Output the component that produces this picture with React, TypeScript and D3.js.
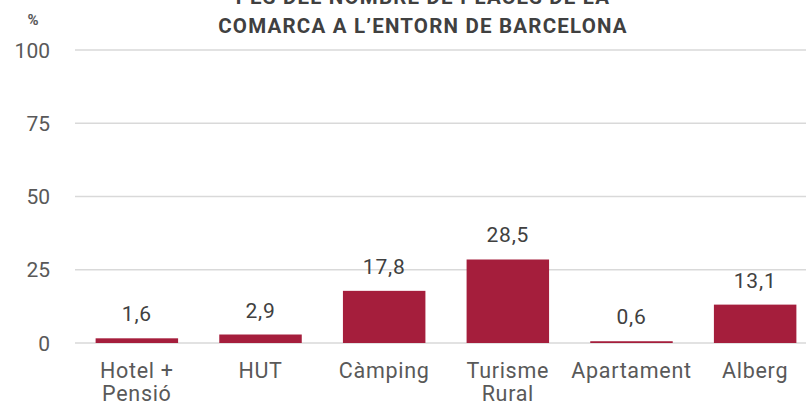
import React from "react";
import * as d3 from "d3";

const categories: string[][] = [["Hotel +", "Pensió"], ["HUT"], ["Càmping"], ["Turisme", "Rural"], ["Apartament"], ["Alberg"]];
const values: number[] = [1.6, 2.9, 17.8, 28.5, 0.6, 13.1];
const valueLabels: string[] = ["1,6", "2,9", "17,8", "28,5", "0,6", "13,1"];
const yTicks: number[] = [0, 25, 50, 75, 100];
const titleLines: string[] = ["PES DEL NOMBRE DE PLACES DE LA", "COMARCA A L\u2019ENTORN DE BARCELONA"];

const W = 806, H = 407;
const FONT = "Roboto, 'DejaVu Sans', sans-serif";

export default function App() {
  const keys = categories.map((c) => c.join(" "));
  const x = d3.scaleBand<string>().domain(keys).range([75, 817]).paddingInner(0.333).paddingOuter(0.1667);
  const y = d3.scaleLinear().domain([0, 100]).range([343, 50]);
  return (
    <svg width={W} height={H} style={{ position: "absolute", left: 0, top: 0, background: "#fff" }} fontFamily={FONT}>
      {titleLines.map((t, i) => (
        <text key={i} x={423} y={4 + i * 29} textAnchor="middle" fontSize={20.5} fontWeight="bold" letterSpacing={1.2} fill="#404040">{t}</text>
      ))}
      <text x={33} y={25} textAnchor="middle" fontSize={15} fontWeight="bold" fill="#595959">%</text>
      {yTicks.map((t) => (
        <g key={t}>
          <line x1={75} x2={W} y1={y(t)} y2={y(t)} stroke="#d9d9d9" strokeWidth={1.5} />
          <text x={50} y={y(t) + 7.5} textAnchor="end" fontSize={21} fill="#595959">{t}</text>
        </g>
      ))}
      {values.map((v, i) => {
        const k = keys[i];
        const bx = x(k)!;
        const cx = bx + x.bandwidth() / 2;
        return (
          <g key={k}>
            <rect x={bx} y={y(v)} width={x.bandwidth()} height={y(0) - y(v)} fill="#a51e3c" />
            <text x={cx} y={y(v) - 17} textAnchor="middle" fontSize={21} letterSpacing={0.8} fill="#404040">{valueLabels[i]}</text>
            {categories[i].map((line, j) => (
              <text key={j} x={cx} y={378 + j * 23} textAnchor="middle" fontSize={21.5} letterSpacing={0.7} fill="#595959">{line}</text>
            ))}
          </g>
        );
      })}
    </svg>
  );
}
